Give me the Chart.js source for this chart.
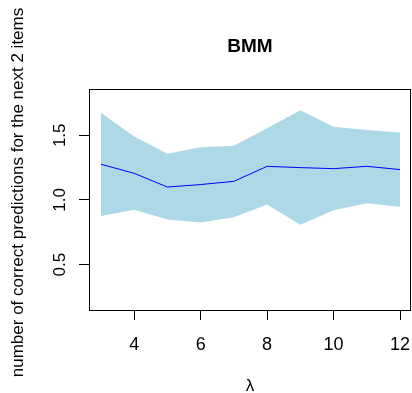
<!DOCTYPE html>
<html>
<head>
<meta charset="utf-8">
<script src="https://cdn.jsdelivr.net/npm/chart.js@4/dist/chart.umd.min.js"></script>
<style>
  html, body { margin: 0; padding: 0; background: #fff; }
  #wrap { width: 412px; height: 393px; }
</style>
</head>
<body>
<div id="wrap"><canvas id="c" width="412" height="393"></canvas></div>
<script>
// ---- data ----
const lambdas = [3, 4, 5, 6, 7, 8, 9, 10, 11, 12];
const meanValues = [1.276, 1.206, 1.100, 1.119, 1.144, 1.260, 1.250, 1.242, 1.260, 1.235];
const upperValues = [1.675, 1.490, 1.358, 1.407, 1.420, 1.554, 1.694, 1.567, 1.541, 1.521];
const lowerValues = [0.876, 0.925, 0.848, 0.825, 0.866, 0.964, 0.809, 0.920, 0.974, 0.948];
const xTicks = [4, 6, 8, 10, 12];
const yTicks = [0.5, 1.0, 1.5];
const yTickLabels = ['0.5', '1.0', '1.5'];
const titleText = 'BMM';
const xTitle = 'λ';
const yTitle = 'number of correct predictions for the next 2 items';

const toPoints = (vals) => lambdas.map((x, i) => ({ x: x, y: vals[i] }));
const FONT = '"Liberation Sans", Arial, Helvetica, sans-serif';

const rStyle = {
  id: 'rStyle',
  afterDraw(chart) {
    const ctx = chart.ctx;
    const a = chart.chartArea;
    const xs = chart.scales.x, ys = chart.scales.y;
    ctx.save();
    // box
    ctx.strokeStyle = '#000';
    ctx.lineWidth = 1;
    ctx.strokeRect(a.left + 0.5, a.top + 0.5, a.right - a.left - 1, a.bottom - a.top);
    ctx.fillStyle = '#000';
    // x tick labels
    ctx.font = '18px ' + FONT;
    ctx.textAlign = 'center';
    ctx.textBaseline = 'alphabetic';
    xTicks.forEach(v => ctx.fillText(String(v), xs.getPixelForValue(v), 350));
    // y tick labels (rotated, R style)
    ctx.font = '17px ' + FONT;
    yTicks.forEach((v, i) => {
      ctx.save();
      ctx.translate(65, ys.getPixelForValue(v));
      ctx.rotate(-Math.PI / 2);
      ctx.fillText(yTickLabels[i], 0, 0);
      ctx.restore();
    });
    // title
    ctx.font = 'bold 19px ' + FONT;
    ctx.fillText(titleText, (a.left + a.right) / 2, 52.3);
    // x axis title
    ctx.font = '17px ' + FONT;
    ctx.fillText(xTitle, (a.left + a.right) / 2, 390.5);
    // y axis title
    ctx.save();
    ctx.translate(22.7, 192.5);
    ctx.rotate(-Math.PI / 2);
    ctx.fillText(yTitle, 0, 0);
    ctx.restore();
    ctx.restore();
  }
};

new Chart(document.getElementById('c'), {
  type: 'line',
  data: {
    datasets: [
      {
        label: 'mean',
        data: toPoints(meanValues),
        borderColor: '#0000FF',
        borderWidth: 1,
        pointRadius: 0,
        fill: false,
        tension: 0
      },
      {
        label: 'upper',
        data: toPoints(upperValues),
        borderWidth: 0,
        borderColor: 'rgba(0,0,0,0)',
        backgroundColor: '#ADD8E6',
        pointRadius: 0,
        fill: '+1',
        tension: 0
      },
      {
        label: 'lower',
        data: toPoints(lowerValues),
        borderWidth: 0,
        borderColor: 'rgba(0,0,0,0)',
        pointRadius: 0,
        fill: false,
        tension: 0
      }
    ]
  },
  options: {
    responsive: false,
    devicePixelRatio: 1,
    animation: false,
    layout: { padding: { left: 89, top: 89, right: 1, bottom: 83 } },
    plugins: {
      legend: { display: false },
      tooltip: { enabled: false },
      title: { display: false }
    },
    scales: {
      x: {
        type: 'linear',
        min: 2.64,
        max: 12.33,
        afterBuildTicks: s => { s.ticks = xTicks.map(v => ({ value: v })); },
        afterFit: s => { s.height = 0; },
        grid: { drawOnChartArea: false, drawTicks: true, tickLength: 10, color: '#000', lineWidth: 1 },
        border: { display: false },
        ticks: { display: false }
      },
      y: {
        type: 'linear',
        min: 0.149,
        max: 1.858,
        afterBuildTicks: s => { s.ticks = yTicks.map(v => ({ value: v })); },
        afterFit: s => { s.width = 0; },
        grid: { drawOnChartArea: false, drawTicks: true, tickLength: 10, color: '#000', lineWidth: 1 },
        border: { display: false },
        ticks: { display: false }
      }
    }
  },
  plugins: [rStyle]
});
</script>
</body>
</html>
